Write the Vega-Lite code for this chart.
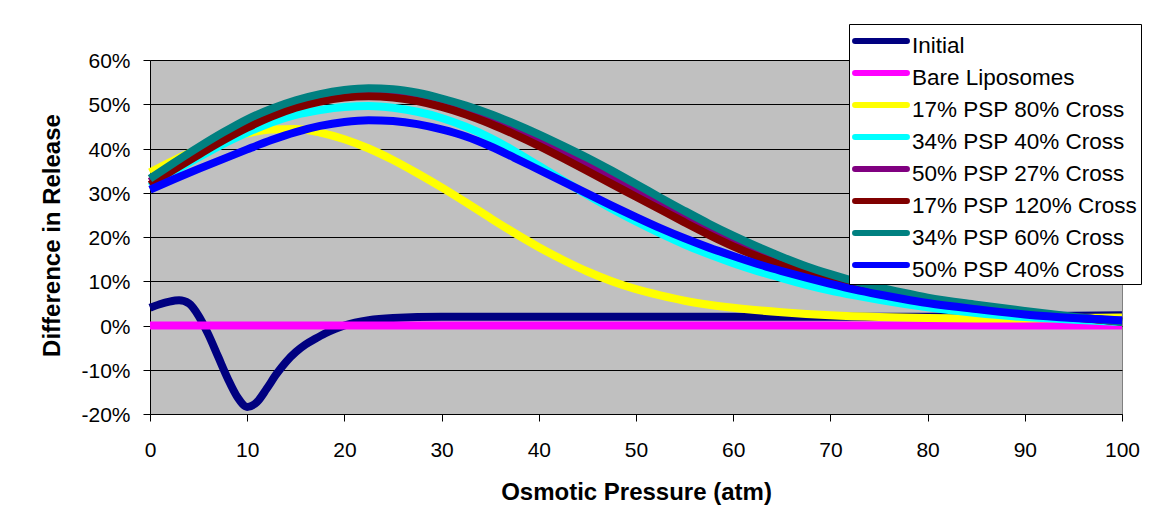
{
  "$schema": "https://vega.github.io/schema/vega-lite/v6.json",
  "width": 972,
  "height": 354,
  "autosize": {"type": "none"},
  "padding": {"left": 150, "top": 60, "right": 42, "bottom": 117},
  "background": "white",
  "config": {
    "font": "Liberation Sans",
    "view": {"fill": "#C0C0C0", "stroke": "#808080", "strokeWidth": 1},
    "axis": {
      "domainColor": "black",
      "domainWidth": 1,
      "tickColor": "black",
      "tickSize": 7,
      "tickWidth": 1,
      "labelColor": "black",
      "labelFontSize": 21,
      "titleColor": "black",
      "titleFontSize": 24,
      "titleFontWeight": "bold"
    }
  },
  "data": {
    "values": [
      {"series": "Initial", "pressure": 0, "release": 4.0},
      {"series": "Initial", "pressure": 1, "release": 4.8},
      {"series": "Initial", "pressure": 2, "release": 5.4},
      {"series": "Initial", "pressure": 3, "release": 5.7},
      {"series": "Initial", "pressure": 4, "release": 5.0},
      {"series": "Initial", "pressure": 5, "release": 2.2},
      {"series": "Initial", "pressure": 6, "release": -2.0},
      {"series": "Initial", "pressure": 7, "release": -7.0},
      {"series": "Initial", "pressure": 8, "release": -12.0},
      {"series": "Initial", "pressure": 9, "release": -16.2},
      {"series": "Initial", "pressure": 10, "release": -18.4},
      {"series": "Initial", "pressure": 11, "release": -17.3},
      {"series": "Initial", "pressure": 12, "release": -14.3},
      {"series": "Initial", "pressure": 13, "release": -11.0},
      {"series": "Initial", "pressure": 14, "release": -8.2},
      {"series": "Initial", "pressure": 15, "release": -6.0},
      {"series": "Initial", "pressure": 16, "release": -4.3},
      {"series": "Initial", "pressure": 17, "release": -3.0},
      {"series": "Initial", "pressure": 18, "release": -1.8},
      {"series": "Initial", "pressure": 19, "release": -0.8},
      {"series": "Initial", "pressure": 20, "release": 0.0},
      {"series": "Initial", "pressure": 22.5, "release": 1.2},
      {"series": "Initial", "pressure": 25, "release": 1.7},
      {"series": "Initial", "pressure": 30, "release": 2.0},
      {"series": "Initial", "pressure": 40, "release": 2.0},
      {"series": "Initial", "pressure": 50, "release": 2.0},
      {"series": "Initial", "pressure": 60, "release": 2.0},
      {"series": "Initial", "pressure": 70, "release": 2.0},
      {"series": "Initial", "pressure": 80, "release": 2.0},
      {"series": "Initial", "pressure": 90, "release": 2.1},
      {"series": "Initial", "pressure": 100, "release": 2.3},

      {"series": "Bare Liposomes", "pressure": 0, "release": 0},
      {"series": "Bare Liposomes", "pressure": 50, "release": 0},
      {"series": "Bare Liposomes", "pressure": 100, "release": 0},

      {"series": "17% PSP 80% Cross", "pressure": 0, "release": 34.6},
      {"series": "17% PSP 80% Cross", "pressure": 2.5, "release": 37.4},
      {"series": "17% PSP 80% Cross", "pressure": 5, "release": 39.9},
      {"series": "17% PSP 80% Cross", "pressure": 7.5, "release": 41.9},
      {"series": "17% PSP 80% Cross", "pressure": 10, "release": 43.4},
      {"series": "17% PSP 80% Cross", "pressure": 12.5, "release": 44.3},
      {"series": "17% PSP 80% Cross", "pressure": 15, "release": 44.4},
      {"series": "17% PSP 80% Cross", "pressure": 17.5, "release": 43.6},
      {"series": "17% PSP 80% Cross", "pressure": 20, "release": 42.1},
      {"series": "17% PSP 80% Cross", "pressure": 22.5, "release": 40.0},
      {"series": "17% PSP 80% Cross", "pressure": 25, "release": 37.4},
      {"series": "17% PSP 80% Cross", "pressure": 27.5, "release": 34.4},
      {"series": "17% PSP 80% Cross", "pressure": 30, "release": 31.2},
      {"series": "17% PSP 80% Cross", "pressure": 32.5, "release": 27.8},
      {"series": "17% PSP 80% Cross", "pressure": 35, "release": 24.3},
      {"series": "17% PSP 80% Cross", "pressure": 37.5, "release": 20.9},
      {"series": "17% PSP 80% Cross", "pressure": 40, "release": 17.7},
      {"series": "17% PSP 80% Cross", "pressure": 42.5, "release": 14.8},
      {"series": "17% PSP 80% Cross", "pressure": 45, "release": 12.2},
      {"series": "17% PSP 80% Cross", "pressure": 47.5, "release": 10.0},
      {"series": "17% PSP 80% Cross", "pressure": 50, "release": 8.2},
      {"series": "17% PSP 80% Cross", "pressure": 52.5, "release": 6.8},
      {"series": "17% PSP 80% Cross", "pressure": 55, "release": 5.6},
      {"series": "17% PSP 80% Cross", "pressure": 57.5, "release": 4.7},
      {"series": "17% PSP 80% Cross", "pressure": 60, "release": 4.0},
      {"series": "17% PSP 80% Cross", "pressure": 65, "release": 3.0},
      {"series": "17% PSP 80% Cross", "pressure": 70, "release": 2.3},
      {"series": "17% PSP 80% Cross", "pressure": 75, "release": 1.9},
      {"series": "17% PSP 80% Cross", "pressure": 80, "release": 1.7},
      {"series": "17% PSP 80% Cross", "pressure": 85, "release": 1.6},
      {"series": "17% PSP 80% Cross", "pressure": 90, "release": 1.6},
      {"series": "17% PSP 80% Cross", "pressure": 95, "release": 1.7},
      {"series": "17% PSP 80% Cross", "pressure": 100, "release": 1.8},

      {"series": "34% PSP 40% Cross", "pressure": 0, "release": 31.4},
      {"series": "34% PSP 40% Cross", "pressure": 2.5, "release": 34.8},
      {"series": "34% PSP 40% Cross", "pressure": 5, "release": 38.0},
      {"series": "34% PSP 40% Cross", "pressure": 7.5, "release": 41.0},
      {"series": "34% PSP 40% Cross", "pressure": 10, "release": 43.6},
      {"series": "34% PSP 40% Cross", "pressure": 12.5, "release": 45.9},
      {"series": "34% PSP 40% Cross", "pressure": 15, "release": 47.6},
      {"series": "34% PSP 40% Cross", "pressure": 17.5, "release": 48.7},
      {"series": "34% PSP 40% Cross", "pressure": 20, "release": 49.4},
      {"series": "34% PSP 40% Cross", "pressure": 22.5, "release": 49.6},
      {"series": "34% PSP 40% Cross", "pressure": 25, "release": 49.2},
      {"series": "34% PSP 40% Cross", "pressure": 27.5, "release": 48.3},
      {"series": "34% PSP 40% Cross", "pressure": 30, "release": 46.9},
      {"series": "34% PSP 40% Cross", "pressure": 32.5, "release": 44.9},
      {"series": "34% PSP 40% Cross", "pressure": 35, "release": 42.4},
      {"series": "34% PSP 40% Cross", "pressure": 37.5, "release": 39.4},
      {"series": "34% PSP 40% Cross", "pressure": 40, "release": 36.1},
      {"series": "34% PSP 40% Cross", "pressure": 42.5, "release": 32.8},
      {"series": "34% PSP 40% Cross", "pressure": 45, "release": 29.5},
      {"series": "34% PSP 40% Cross", "pressure": 47.5, "release": 26.4},
      {"series": "34% PSP 40% Cross", "pressure": 50, "release": 23.5},
      {"series": "34% PSP 40% Cross", "pressure": 52.5, "release": 20.8},
      {"series": "34% PSP 40% Cross", "pressure": 55, "release": 18.3},
      {"series": "34% PSP 40% Cross", "pressure": 57.5, "release": 16.1},
      {"series": "34% PSP 40% Cross", "pressure": 60, "release": 14.1},
      {"series": "34% PSP 40% Cross", "pressure": 62.5, "release": 12.3},
      {"series": "34% PSP 40% Cross", "pressure": 65, "release": 10.7},
      {"series": "34% PSP 40% Cross", "pressure": 67.5, "release": 9.2},
      {"series": "34% PSP 40% Cross", "pressure": 70, "release": 7.9},
      {"series": "34% PSP 40% Cross", "pressure": 72.5, "release": 6.8},
      {"series": "34% PSP 40% Cross", "pressure": 75, "release": 5.8},
      {"series": "34% PSP 40% Cross", "pressure": 77.5, "release": 4.9},
      {"series": "34% PSP 40% Cross", "pressure": 80, "release": 4.1},
      {"series": "34% PSP 40% Cross", "pressure": 85, "release": 2.8},
      {"series": "34% PSP 40% Cross", "pressure": 90, "release": 1.9},
      {"series": "34% PSP 40% Cross", "pressure": 95, "release": 1.3},
      {"series": "34% PSP 40% Cross", "pressure": 100, "release": 0.8},

      {"series": "50% PSP 27% Cross", "pressure": 0, "release": 32.5},
      {"series": "50% PSP 27% Cross", "pressure": 2.5, "release": 36.0},
      {"series": "50% PSP 27% Cross", "pressure": 5, "release": 39.4},
      {"series": "50% PSP 27% Cross", "pressure": 7.5, "release": 42.6},
      {"series": "50% PSP 27% Cross", "pressure": 10, "release": 45.5},
      {"series": "50% PSP 27% Cross", "pressure": 12.5, "release": 48.0},
      {"series": "50% PSP 27% Cross", "pressure": 15, "release": 49.9},
      {"series": "50% PSP 27% Cross", "pressure": 17.5, "release": 51.3},
      {"series": "50% PSP 27% Cross", "pressure": 20, "release": 52.2},
      {"series": "50% PSP 27% Cross", "pressure": 22.5, "release": 52.7},
      {"series": "50% PSP 27% Cross", "pressure": 25, "release": 52.5},
      {"series": "50% PSP 27% Cross", "pressure": 27.5, "release": 51.6},
      {"series": "50% PSP 27% Cross", "pressure": 30, "release": 50.3},
      {"series": "50% PSP 27% Cross", "pressure": 32.5, "release": 48.7},
      {"series": "50% PSP 27% Cross", "pressure": 35, "release": 46.8},
      {"series": "50% PSP 27% Cross", "pressure": 37.5, "release": 44.6},
      {"series": "50% PSP 27% Cross", "pressure": 40, "release": 42.0},
      {"series": "50% PSP 27% Cross", "pressure": 42.5, "release": 39.3},
      {"series": "50% PSP 27% Cross", "pressure": 45, "release": 36.5},
      {"series": "50% PSP 27% Cross", "pressure": 47.5, "release": 33.5},
      {"series": "50% PSP 27% Cross", "pressure": 50, "release": 30.5},
      {"series": "50% PSP 27% Cross", "pressure": 52.5, "release": 27.5},
      {"series": "50% PSP 27% Cross", "pressure": 55, "release": 24.6},
      {"series": "50% PSP 27% Cross", "pressure": 57.5, "release": 21.8},
      {"series": "50% PSP 27% Cross", "pressure": 60, "release": 19.2},
      {"series": "50% PSP 27% Cross", "pressure": 62.5, "release": 16.8},
      {"series": "50% PSP 27% Cross", "pressure": 65, "release": 14.6},
      {"series": "50% PSP 27% Cross", "pressure": 67.5, "release": 12.6},
      {"series": "50% PSP 27% Cross", "pressure": 70, "release": 10.9},
      {"series": "50% PSP 27% Cross", "pressure": 72.5, "release": 9.4},
      {"series": "50% PSP 27% Cross", "pressure": 75, "release": 8.1},
      {"series": "50% PSP 27% Cross", "pressure": 77.5, "release": 7.0},
      {"series": "50% PSP 27% Cross", "pressure": 80, "release": 6.0},
      {"series": "50% PSP 27% Cross", "pressure": 85, "release": 4.4},
      {"series": "50% PSP 27% Cross", "pressure": 90, "release": 3.0},
      {"series": "50% PSP 27% Cross", "pressure": 95, "release": 1.9},
      {"series": "50% PSP 27% Cross", "pressure": 100, "release": 0.9},

      {"series": "17% PSP 120% Cross", "pressure": 0, "release": 31.8},
      {"series": "17% PSP 120% Cross", "pressure": 2.5, "release": 35.3},
      {"series": "17% PSP 120% Cross", "pressure": 5, "release": 38.6},
      {"series": "17% PSP 120% Cross", "pressure": 7.5, "release": 41.8},
      {"series": "17% PSP 120% Cross", "pressure": 10, "release": 44.7},
      {"series": "17% PSP 120% Cross", "pressure": 12.5, "release": 47.2},
      {"series": "17% PSP 120% Cross", "pressure": 15, "release": 49.2},
      {"series": "17% PSP 120% Cross", "pressure": 17.5, "release": 50.6},
      {"series": "17% PSP 120% Cross", "pressure": 20, "release": 51.5},
      {"series": "17% PSP 120% Cross", "pressure": 22.5, "release": 51.8},
      {"series": "17% PSP 120% Cross", "pressure": 25, "release": 51.5},
      {"series": "17% PSP 120% Cross", "pressure": 27.5, "release": 50.7},
      {"series": "17% PSP 120% Cross", "pressure": 30, "release": 49.4},
      {"series": "17% PSP 120% Cross", "pressure": 32.5, "release": 47.7},
      {"series": "17% PSP 120% Cross", "pressure": 35, "release": 45.6},
      {"series": "17% PSP 120% Cross", "pressure": 37.5, "release": 43.2},
      {"series": "17% PSP 120% Cross", "pressure": 40, "release": 40.6},
      {"series": "17% PSP 120% Cross", "pressure": 42.5, "release": 37.8},
      {"series": "17% PSP 120% Cross", "pressure": 45, "release": 34.9},
      {"series": "17% PSP 120% Cross", "pressure": 47.5, "release": 32.0},
      {"series": "17% PSP 120% Cross", "pressure": 50, "release": 29.1},
      {"series": "17% PSP 120% Cross", "pressure": 52.5, "release": 26.2},
      {"series": "17% PSP 120% Cross", "pressure": 55, "release": 23.3},
      {"series": "17% PSP 120% Cross", "pressure": 57.5, "release": 20.5},
      {"series": "17% PSP 120% Cross", "pressure": 60, "release": 17.9},
      {"series": "17% PSP 120% Cross", "pressure": 62.5, "release": 15.6},
      {"series": "17% PSP 120% Cross", "pressure": 65, "release": 13.6},
      {"series": "17% PSP 120% Cross", "pressure": 67.5, "release": 11.8},
      {"series": "17% PSP 120% Cross", "pressure": 70, "release": 10.2},
      {"series": "17% PSP 120% Cross", "pressure": 72.5, "release": 8.8},
      {"series": "17% PSP 120% Cross", "pressure": 75, "release": 7.6},
      {"series": "17% PSP 120% Cross", "pressure": 77.5, "release": 6.6},
      {"series": "17% PSP 120% Cross", "pressure": 80, "release": 5.7},
      {"series": "17% PSP 120% Cross", "pressure": 85, "release": 4.2},
      {"series": "17% PSP 120% Cross", "pressure": 90, "release": 2.9},
      {"series": "17% PSP 120% Cross", "pressure": 95, "release": 1.8},
      {"series": "17% PSP 120% Cross", "pressure": 100, "release": 0.9},

      {"series": "34% PSP 60% Cross", "pressure": 0, "release": 33.2},
      {"series": "34% PSP 60% Cross", "pressure": 2.5, "release": 36.8},
      {"series": "34% PSP 60% Cross", "pressure": 5, "release": 40.3},
      {"series": "34% PSP 60% Cross", "pressure": 7.5, "release": 43.6},
      {"series": "34% PSP 60% Cross", "pressure": 10, "release": 46.6},
      {"series": "34% PSP 60% Cross", "pressure": 12.5, "release": 49.0},
      {"series": "34% PSP 60% Cross", "pressure": 15, "release": 50.9},
      {"series": "34% PSP 60% Cross", "pressure": 17.5, "release": 52.3},
      {"series": "34% PSP 60% Cross", "pressure": 20, "release": 53.2},
      {"series": "34% PSP 60% Cross", "pressure": 22.5, "release": 53.6},
      {"series": "34% PSP 60% Cross", "pressure": 25, "release": 53.4},
      {"series": "34% PSP 60% Cross", "pressure": 27.5, "release": 52.6},
      {"series": "34% PSP 60% Cross", "pressure": 30, "release": 51.3},
      {"series": "34% PSP 60% Cross", "pressure": 32.5, "release": 49.7},
      {"series": "34% PSP 60% Cross", "pressure": 35, "release": 47.8},
      {"series": "34% PSP 60% Cross", "pressure": 37.5, "release": 45.6},
      {"series": "34% PSP 60% Cross", "pressure": 40, "release": 43.2},
      {"series": "34% PSP 60% Cross", "pressure": 42.5, "release": 40.6},
      {"series": "34% PSP 60% Cross", "pressure": 45, "release": 37.9},
      {"series": "34% PSP 60% Cross", "pressure": 47.5, "release": 35.0},
      {"series": "34% PSP 60% Cross", "pressure": 50, "release": 32.0},
      {"series": "34% PSP 60% Cross", "pressure": 52.5, "release": 28.9},
      {"series": "34% PSP 60% Cross", "pressure": 55, "release": 25.9},
      {"series": "34% PSP 60% Cross", "pressure": 57.5, "release": 23.0},
      {"series": "34% PSP 60% Cross", "pressure": 60, "release": 20.3},
      {"series": "34% PSP 60% Cross", "pressure": 62.5, "release": 17.8},
      {"series": "34% PSP 60% Cross", "pressure": 65, "release": 15.5},
      {"series": "34% PSP 60% Cross", "pressure": 67.5, "release": 13.4},
      {"series": "34% PSP 60% Cross", "pressure": 70, "release": 11.6},
      {"series": "34% PSP 60% Cross", "pressure": 72.5, "release": 10.0},
      {"series": "34% PSP 60% Cross", "pressure": 75, "release": 8.6},
      {"series": "34% PSP 60% Cross", "pressure": 77.5, "release": 7.4},
      {"series": "34% PSP 60% Cross", "pressure": 80, "release": 6.3},
      {"series": "34% PSP 60% Cross", "pressure": 85, "release": 4.7},
      {"series": "34% PSP 60% Cross", "pressure": 90, "release": 3.3},
      {"series": "34% PSP 60% Cross", "pressure": 95, "release": 2.0},
      {"series": "34% PSP 60% Cross", "pressure": 100, "release": 0.8},

      {"series": "50% PSP 40% Cross", "pressure": 0, "release": 30.7},
      {"series": "50% PSP 40% Cross", "pressure": 2.5, "release": 33.1},
      {"series": "50% PSP 40% Cross", "pressure": 5, "release": 35.4},
      {"series": "50% PSP 40% Cross", "pressure": 7.5, "release": 37.6},
      {"series": "50% PSP 40% Cross", "pressure": 10, "release": 39.8},
      {"series": "50% PSP 40% Cross", "pressure": 12.5, "release": 41.9},
      {"series": "50% PSP 40% Cross", "pressure": 15, "release": 43.7},
      {"series": "50% PSP 40% Cross", "pressure": 17.5, "release": 45.1},
      {"series": "50% PSP 40% Cross", "pressure": 20, "release": 46.0},
      {"series": "50% PSP 40% Cross", "pressure": 22.5, "release": 46.4},
      {"series": "50% PSP 40% Cross", "pressure": 25, "release": 46.2},
      {"series": "50% PSP 40% Cross", "pressure": 27.5, "release": 45.5},
      {"series": "50% PSP 40% Cross", "pressure": 30, "release": 44.3},
      {"series": "50% PSP 40% Cross", "pressure": 32.5, "release": 42.7},
      {"series": "50% PSP 40% Cross", "pressure": 35, "release": 40.5},
      {"series": "50% PSP 40% Cross", "pressure": 37.5, "release": 37.9},
      {"series": "50% PSP 40% Cross", "pressure": 40, "release": 35.2},
      {"series": "50% PSP 40% Cross", "pressure": 42.5, "release": 32.5},
      {"series": "50% PSP 40% Cross", "pressure": 45, "release": 29.8},
      {"series": "50% PSP 40% Cross", "pressure": 47.5, "release": 27.1},
      {"series": "50% PSP 40% Cross", "pressure": 50, "release": 24.5},
      {"series": "50% PSP 40% Cross", "pressure": 52.5, "release": 22.0},
      {"series": "50% PSP 40% Cross", "pressure": 55, "release": 19.7},
      {"series": "50% PSP 40% Cross", "pressure": 57.5, "release": 17.6},
      {"series": "50% PSP 40% Cross", "pressure": 60, "release": 15.7},
      {"series": "50% PSP 40% Cross", "pressure": 62.5, "release": 13.9},
      {"series": "50% PSP 40% Cross", "pressure": 65, "release": 12.3},
      {"series": "50% PSP 40% Cross", "pressure": 67.5, "release": 10.8},
      {"series": "50% PSP 40% Cross", "pressure": 70, "release": 9.4},
      {"series": "50% PSP 40% Cross", "pressure": 72.5, "release": 8.1},
      {"series": "50% PSP 40% Cross", "pressure": 75, "release": 7.0},
      {"series": "50% PSP 40% Cross", "pressure": 77.5, "release": 6.0},
      {"series": "50% PSP 40% Cross", "pressure": 80, "release": 5.1},
      {"series": "50% PSP 40% Cross", "pressure": 85, "release": 3.7},
      {"series": "50% PSP 40% Cross", "pressure": 90, "release": 2.5},
      {"series": "50% PSP 40% Cross", "pressure": 95, "release": 1.7},
      {"series": "50% PSP 40% Cross", "pressure": 100, "release": 1.2}
    ]
  },
  "mark": {"type": "line", "strokeWidth": 8, "interpolate": "monotone", "strokeJoin": "round"},
  "encoding": {
    "x": {
      "field": "pressure",
      "type": "quantitative",
      "scale": {"domain": [0, 100], "nice": false, "zero": false},
      "axis": {
        "title": "Osmotic Pressure (atm)",
        "values": [0, 10, 20, 30, 40, 50, 60, 70, 80, 90, 100],
        "grid": false,
        "labelFlush": false,
        "labelPadding": 18,
        "titleY": 85,
        "titleBaseline": "alphabetic"
      }
    },
    "y": {
      "field": "release",
      "type": "quantitative",
      "scale": {"domain": [-20, 60], "nice": false, "zero": false},
      "axis": {
        "title": "Difference in Release",
        "values": [-20, -10, 0, 10, 20, 30, 40, 50, 60],
        "labelExpr": "datum.value + '%'",
        "grid": true,
        "gridColor": "black",
        "gridWidth": 1,
        "gridOpacity": 1,
        "labelPadding": 13,
        "labelBaseline": "alphabetic",
        "labelOffset": 7.5,
        "titleX": -91,
        "titleY": 175,
        "titleBaseline": "alphabetic"
      }
    },
    "color": {
      "field": "series",
      "type": "nominal",
      "scale": {
        "domain": ["Initial", "Bare Liposomes", "17% PSP 80% Cross", "34% PSP 40% Cross", "50% PSP 27% Cross", "17% PSP 120% Cross", "34% PSP 60% Cross", "50% PSP 40% Cross"],
        "range": ["#000080", "#FF00FF", "#FFFF00", "#00FFFF", "#800080", "#800000", "#008080", "#0000FF"]
      },
      "legend": {
        "orient": "none",
        "legendX": 699,
        "legendY": -36,
        "title": null,
        "fillColor": "white",
        "strokeColor": "black",
        "padding": 3,
        "cornerRadius": 0,
        "symbolType": "M-2.36,0H2.36",
        "symbolSize": 484,
        "symbolStrokeWidth": 6,
        "symbolOpacity": 1,
        "symbolOffset": 15,
        "labelFontSize": 22.5,
        "labelColor": "black",
        "labelOffset": 17,
        "labelLimit": 400,
        "rowPadding": 2,
        "encode": {
          "symbols": {"update": {"strokeCap": {"value": "round"}}},
          "labels": {"update": {"dy": {"value": 4.5}}}
        }
      }
    }
  }
}
